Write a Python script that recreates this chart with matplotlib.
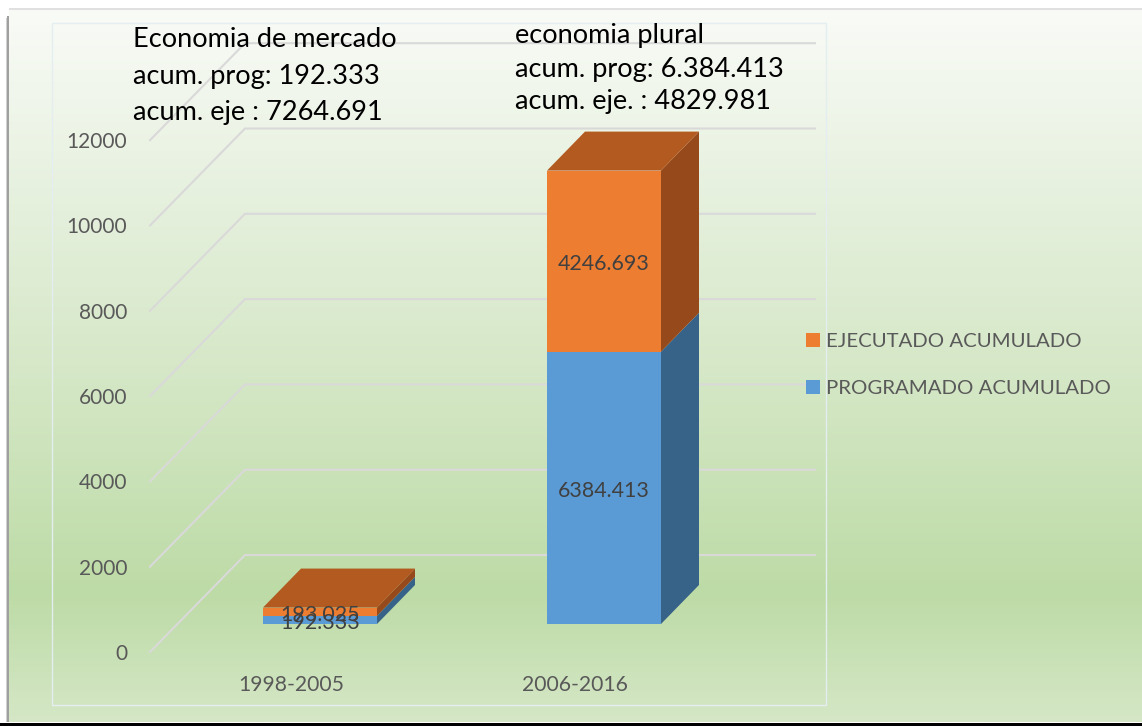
import matplotlib
matplotlib.use("Agg")
import matplotlib.pyplot as plt
import numpy as np
from matplotlib.colors import LinearSegmentedColormap
from matplotlib.patches import Patch, Polygon, Rectangle

plt.rcParams["font.family"] = ["Lato", "DejaVu Sans"]

# Data
periods = ["1998-2005", "2006-2016"]
programado = [192.333, 6384.413]
ejecutado = [193.025, 4246.693]
programado_labels = ["192.333", "6384.413"]
ejecutado_labels = ["193.025", "4246.693"]
y_ticks = [0, 2000, 4000, 6000, 8000, 10000, 12000]
series_names = ["EJECUTADO ACUMULADO", "PROGRAMADO ACUMULADO"]

W, H = 1142, 726
X0, X_STEP = 320.0, 284.0     # pixel of first bar centre, pixels per category
Y0, Y_SCALE = 624.0, 0.04265  # pixel of value 0 at bar front, pixels per unit


def px_x(px):
    return (px - X0) / X_STEP


def px_y(py):
    return (Y0 - py) / Y_SCALE


fig = plt.figure(figsize=(W / 100, H / 100), dpi=100)

# page background, card and gradient
bg = fig.add_axes([0, 0, 1, 1])
bg.set_xlim(0, W)
bg.set_ylim(H, 0)
bg.axis("off")
cmap = LinearSegmentedColormap.from_list("card", [
    (0.0, "#f9fbf7"), (0.25, "#e7f1df"), (0.5, "#d6e8c8"),
    (0.82, "#bddba6"), (1.0, "#d5e7c6")])
grad = np.linspace(0, 1, 256).reshape(-1, 1)
bg.imshow(grad, cmap=cmap, extent=[9, W, 722, 9], aspect="auto", zorder=1)
bg.set_xlim(0, W)
bg.set_ylim(H, 0)
# soft shadow down the left edge of the card
bg.add_patch(Rectangle((6, 18), 1, 704, color="#d0d0d0", lw=0, zorder=2))
bg.add_patch(Rectangle((7, 16), 2, 706, color="#a0a0a0", lw=0, zorder=2))
bg.add_patch(Rectangle((9, 8), W - 9, 1.5, color="#e0e0e0", lw=0, zorder=2))
bg.add_patch(Rectangle((0, 723), W, 3, color="black", lw=0, zorder=2))
bg.add_patch(Rectangle((52, 23), 774, 682, fill=False, ec="#e4eef0", lw=1.0, zorder=2))

# chart in data units, x in categories and y in values
ax = fig.add_axes([0, 0, 1, 1])
ax.patch.set_alpha(0)
ax.set_xlim(px_x(0), px_x(W))
ax.set_ylim(px_y(H), px_y(0))
ax.axis("off")

wall_front = (150, px_y(652))
wall_back = (245, px_y(555))
for t in y_ticks:
    ax.plot([px_x(150), px_x(245), px_x(815)],
            [t + wall_front[1], t + wall_back[1], t + wall_back[1]],
            color="#d9d9d9", lw=1.5, zorder=2, solid_joinstyle="miter")
    ax.text(px_x(127), t + wall_front[1] - 45, str(t), ha="right", va="center",
            fontsize=15, color="#595959", zorder=6)

half_w = 57 / X_STEP
dx = 38 / X_STEP
dy = 39 / Y_SCALE


def box(x, lo, hi, front, side, top):
    ax.add_patch(Rectangle((x - half_w, lo), 2 * half_w, hi - lo, fc=front, ec="none", zorder=3))
    ax.add_patch(Polygon([(x + half_w, lo), (x + half_w + dx, lo + dy),
                          (x + half_w + dx, hi + dy), (x + half_w, hi)],
                         fc=side, ec="none", zorder=3))
    if top:
        ax.add_patch(Polygon([(x - half_w, hi), (x + half_w, hi),
                              (x + half_w + dx, hi + dy), (x - half_w + dx, hi + dy)],
                             fc=top, ec="none", zorder=3))


for i, name in enumerate(periods):
    p, e = programado[i], ejecutado[i]
    box(i, 0, p, "#5b9bd5", "#386388", None)
    box(i, p, p + e, "#ed7d31", "#96491a", "#b35a20")
    ax.text(i, p / 2 - 70, programado_labels[i], ha="center", va="center",
            fontsize=15.4, color="#404040", zorder=5)
    ax.text(i, p + e / 2 - 70, ejecutado_labels[i], ha="center", va="center",
            fontsize=15.4, color="#404040", zorder=5)
    ax.text(i - 29 / X_STEP, px_y(685), name, ha="center", va="center",
            fontsize=15.2, color="#595959", zorder=6)

handles = [Patch(fc="#ed7d31", ec="none", label=series_names[0]),
           Patch(fc="#5b9bd5", ec="none", label=series_names[1])]
ax.legend(handles=handles, loc="center left", frameon=False,
          bbox_to_anchor=(806 / W, 1 - 365 / H), bbox_transform=fig.transFigure,
          fontsize=14.7, labelcolor="#595959", handlelength=0.7, handleheight=0.7,
          handletextpad=0.28, labelspacing=1.45, borderpad=0, borderaxespad=0)

# text boxes laid on top of the chart
notes_left = ["Economia de mercado", "acum. prog: 192.333", "acum. eje : 7264.691"]
notes_right = ["economia plural", "acum. prog: 6.384.413", "acum. eje. : 4829.981"]
for line, py in zip(notes_left, [39.5, 76.5, 112.5]):
    ax.text(px_x(133), px_y(py), line, ha="left", va="center", fontsize=19.5, color="black", zorder=7)
for line, py in zip(notes_right, [36, 69, 102]):
    ax.text(px_x(515), px_y(py), line, ha="left", va="center", fontsize=19.5, color="black", zorder=7)

fig.savefig("out.png", dpi=100)
